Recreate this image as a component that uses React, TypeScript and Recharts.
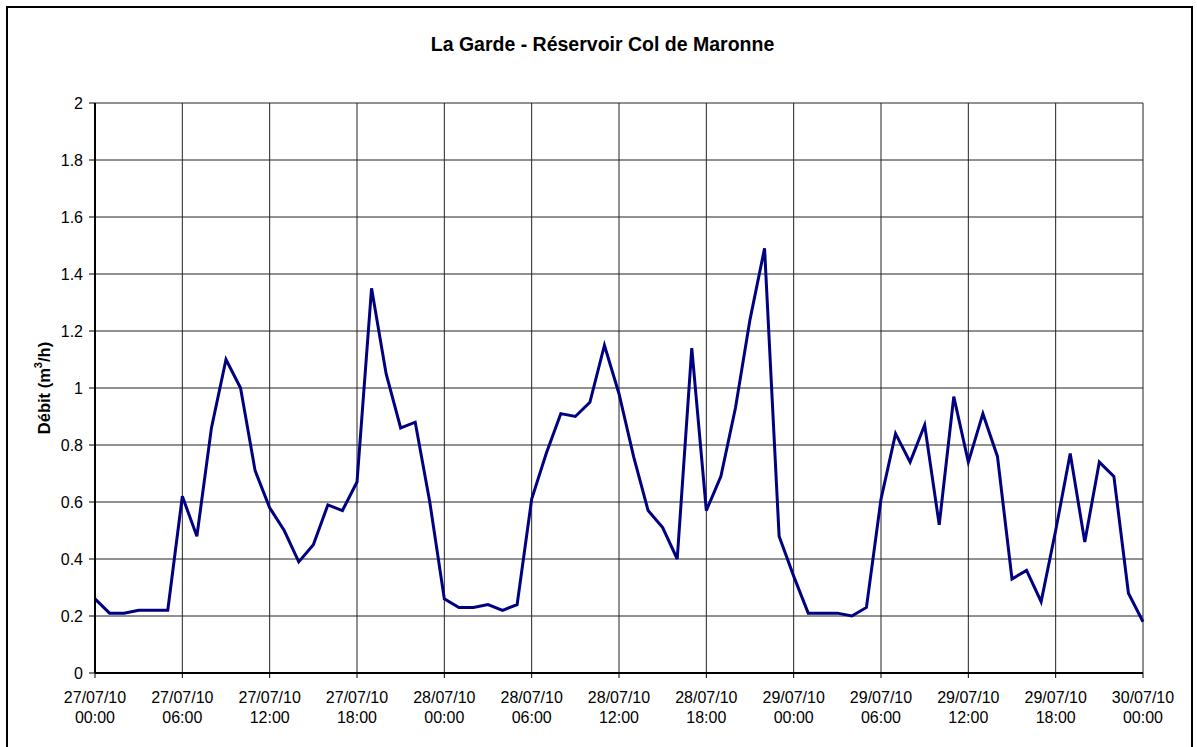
import { LineChart, Line, XAxis, YAxis, CartesianGrid } from 'recharts';

// hourly flow readings, 27/07/10 00:00 -> 30/07/10 00:00
const hours = Array.from({ length: 73 }, (_, i) => i);
const debit = [
  0.26, 0.21, 0.21, 0.22, 0.22, 0.22, 0.62, 0.48, 0.86, 1.1, 1.0, 0.71,
  0.58, 0.5, 0.39, 0.45, 0.59, 0.57, 0.67, 1.35, 1.05, 0.86, 0.88, 0.6,
  0.26, 0.23, 0.23, 0.24, 0.22, 0.24, 0.61, 0.77, 0.91, 0.9, 0.95, 1.15,
  0.98, 0.76, 0.57, 0.51, 0.4, 1.14, 0.57, 0.69, 0.93, 1.24, 1.49, 0.48,
  0.34, 0.21, 0.21, 0.21, 0.2, 0.23, 0.61, 0.84, 0.74, 0.87, 0.52, 0.97,
  0.74, 0.91, 0.76, 0.33, 0.36, 0.25, 0.5, 0.77, 0.46, 0.74, 0.69, 0.28,
  0.18,
];

const xTicks = [0, 6, 12, 18, 24, 30, 36, 42, 48, 54, 60, 66, 72];
const tickDates = [
  '27/07/10', '27/07/10', '27/07/10', '27/07/10',
  '28/07/10', '28/07/10', '28/07/10', '28/07/10',
  '29/07/10', '29/07/10', '29/07/10', '29/07/10',
  '30/07/10',
];
const tickTimes = ['00:00', '06:00', '12:00', '18:00', '00:00', '06:00', '12:00', '18:00', '00:00', '06:00', '12:00', '18:00', '00:00'];
const yTicks = [0, 0.2, 0.4, 0.6, 0.8, 1, 1.2, 1.4, 1.6, 1.8, 2];

const data = hours.map((h, i) => ({ h, debit: debit[i] }));

const FONT = '"Liberation Sans", Arial, sans-serif';

const DateTick = ({ x, y, index }: { x?: number; y?: number; index?: number }) => {
  const i = index ?? 0;
  return (
    <text x={x} y={y} textAnchor="middle" fontFamily={FONT} fontSize={16} fill="#000">
      <tspan x={x} dy={23}>{tickDates[i]}</tspan>
      <tspan x={x} dy={20}>{tickTimes[i]}</tspan>
    </text>
  );
};

export default function App() {
  return (
    <div style={{ position: 'absolute', left: 0, top: 0, width: 1197, height: 747, background: '#fff', overflow: 'hidden' }}>
      <div
        style={{
          position: 'absolute', left: 6, top: 6, width: 1187, height: 760,
          border: '2px solid #000', boxSizing: 'border-box',
        }}
      />
      <div
        style={{
          position: 'absolute', left: 0, top: 33, width: 1205, textAlign: 'center',
          fontFamily: FONT, fontWeight: 'bold', fontSize: 19.5, color: '#000',
        }}
      >
        La Garde - Réservoir Col de Maronne
      </div>
      <div style={{ position: 'absolute', left: 0, top: 0 }}>
        <LineChart width={1197} height={747} data={data} margin={{ top: 103, right: 54, left: 35, bottom: 14 }}>
          <CartesianGrid stroke="#222" strokeWidth={1} />
          <XAxis
            dataKey="h"
            type="number"
            domain={[0, 72]}
            ticks={xTicks}
            interval={0}
            height={60}
            tick={<DateTick />}
            tickSize={5}
            axisLine={{ stroke: '#000', strokeWidth: 2 }}
            tickLine={{ stroke: '#000' }}
          />
          <YAxis
            type="number"
            domain={[0, 2]}
            ticks={yTicks}
            interval={0}
            width={60}
            tickSize={6}
            tickMargin={6}
            tick={{ fontFamily: FONT, fontSize: 16, fill: '#000' }}
            axisLine={{ stroke: '#000', strokeWidth: 2 }}
            tickLine={{ stroke: '#000' }}
            label={{
              content: () => (
                <text
                  x={44}
                  y={388}
                  transform="rotate(-90 44 388)"
                  textAnchor="middle"
                  dominantBaseline="central"
                  fontFamily={FONT}
                  fontWeight="bold"
                  fontSize={16.5}
                  fill="#000"
                >
                  Débit (m<tspan fontSize={11} dy={-6}>3</tspan><tspan dy={6}>/h)</tspan>
                </text>
              ),
            }}
          />
          <Line
            type="linear"
            dataKey="debit"
            stroke="#000080"
            strokeWidth={3}
            dot={false}
            isAnimationActive={false}
          />
        </LineChart>
      </div>
    </div>
  );
}
